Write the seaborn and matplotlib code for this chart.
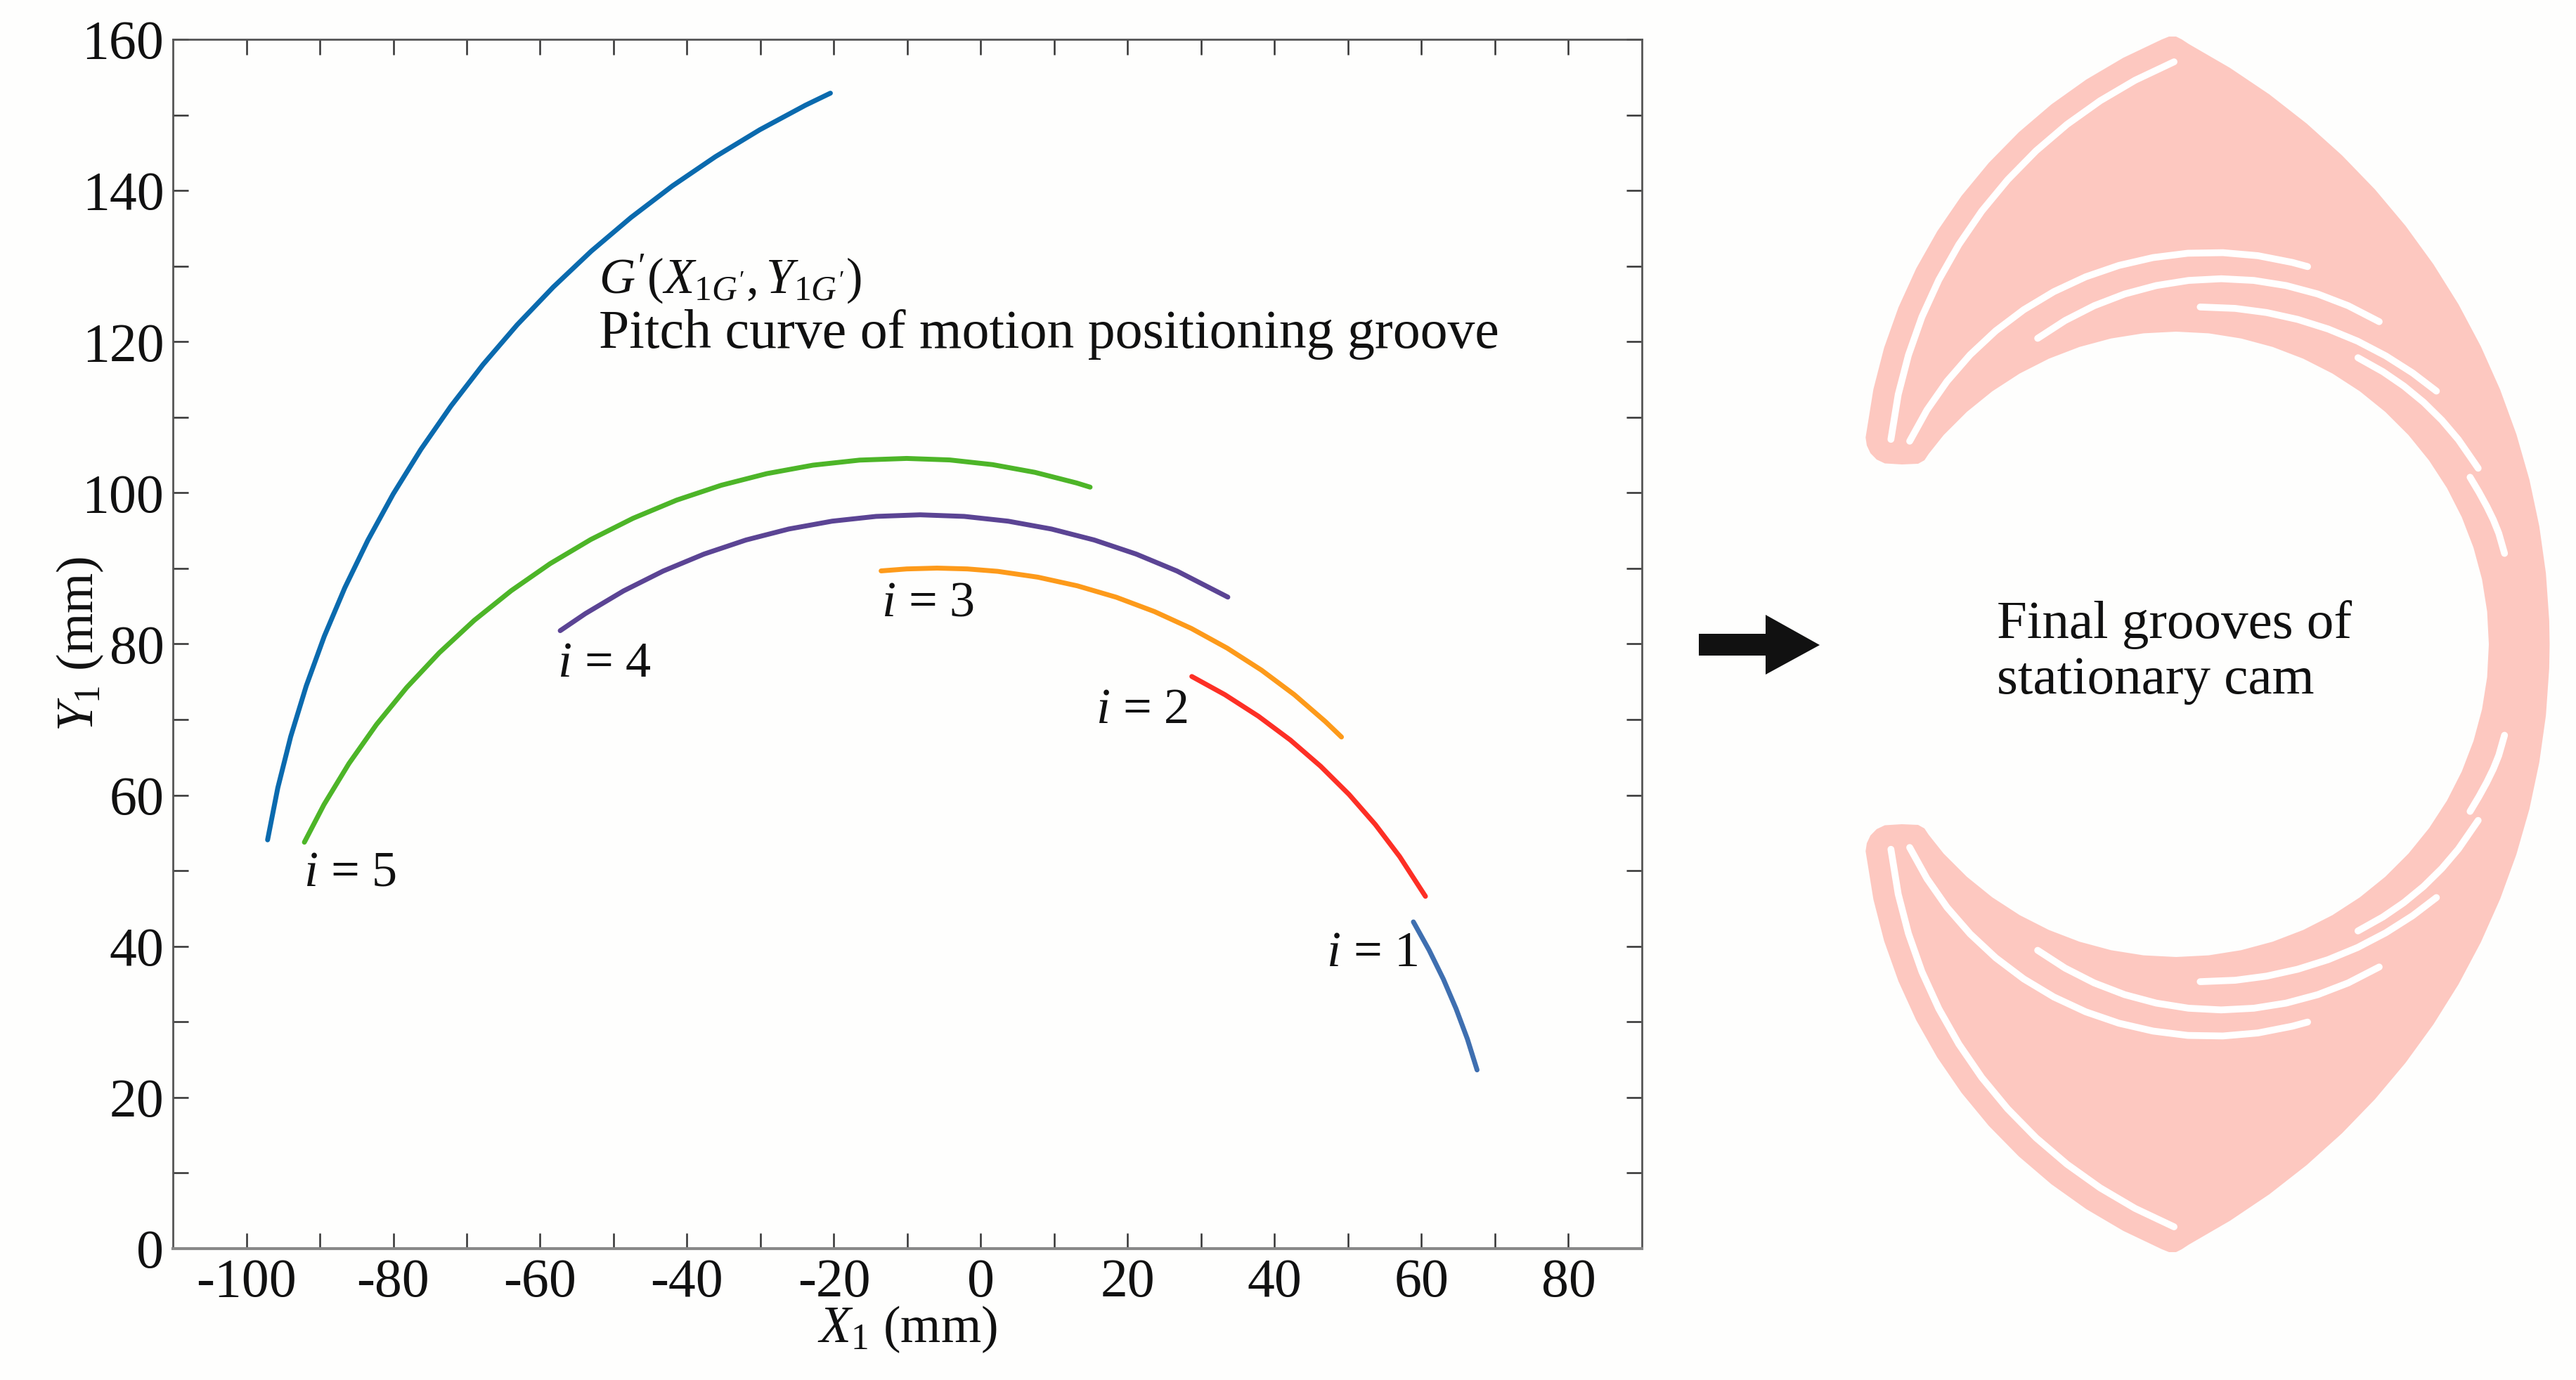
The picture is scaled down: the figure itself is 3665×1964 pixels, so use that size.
#!/usr/bin/env python

import matplotlib
matplotlib.use('Agg')
import matplotlib.pyplot as plt
import numpy as np
import pandas as pd
import seaborn as sns

# pitch curves (mm)
g_x = [-97.11, -95.72, -93.96, -91.85, -89.39, -86.59, -83.45, -80.01, -76.23, -72.15,
       -67.78, -63.14, -58.22, -53.05, -47.63, -41.99, -36.13, -30.09, -23.87, -20.48]
g_y = [54.08, 60.96, 67.75, 74.44, 81.02, 87.45, 93.74, 99.84, 105.76, 111.47,
       116.97, 122.22, 127.22, 131.97, 136.43, 140.61, 144.48, 148.04, 151.29, 152.88]
i5_x = [-92.1, -89.43, -86.04, -82.28, -78.17, -73.73, -68.98, -63.94, -58.64, -53.11, -47.35,
        -41.43, -35.35, -29.14, -22.85, -16.49, -10.1, -4.24, 1.59, 7.36, 13.05, 14.88]
i5_y = [53.77, 58.75, 64.17, 69.35, 74.24, 78.84, 83.12, 87.05, 90.63, 93.82, 96.63,
        99.03, 101.0, 102.54, 103.66, 104.33, 104.55, 104.35, 103.73, 102.71, 101.3, 100.75]
i4_x = [-57.27, -53.84, -48.65, -43.25, -37.68, -31.97, -26.15, -20.24, -14.27, -8.27,
        -2.27, 3.7, 9.61, 15.43, 21.14, 26.71, 33.63]
i4_y = [81.76, 84.02, 87.02, 89.65, 91.9, 93.76, 95.21, 96.25, 96.88, 97.09,
        96.88, 96.25, 95.21, 93.76, 91.9, 89.65, 86.2]
i3_x = [-13.58, -10.09, -5.96, -1.83, 2.3, 7.76, 13.15, 18.45, 23.63, 28.67, 33.54, 38.22, 42.68, 46.9, 49.1]
i3_y = [89.67, 89.93, 90.04, 89.93, 89.61, 88.84, 87.69, 86.18, 84.29, 82.05, 79.45, 76.53, 73.29, 69.74, 67.69]
i2_x = [28.72, 33.23, 37.79, 42.14, 46.25, 50.12, 53.71, 57.02, 60.53]
i2_y = [75.7, 73.29, 70.44, 67.29, 63.83, 60.1, 56.11, 51.87, 46.61]
i1_x = [58.89, 61.03, 62.97, 64.7, 66.24, 67.56]
i1_y = [43.23, 39.49, 35.66, 31.74, 27.74, 23.64]

curves = [('G', g_x, g_y), ('i5', i5_x, i5_y), ('i4', i4_x, i4_y),
          ('i3', i3_x, i3_y), ('i2', i2_x, i2_y), ('i1', i1_x, i1_y)]
curve_colors = {'G': '#0a6aae', 'i5': '#4db528', 'i4': '#5b4494',
                'i3': '#fd9a1a', 'i2': '#fd2f25', 'i1': '#3f6fb0'}

x_ticks = [-100, -80, -60, -40, -20, 0, 20, 40, 60, 80]
x_tick_labels = ['-100', '-80', '-60', '-40', '-20', '0', '20', '40', '60', '80']
x_minor = [-90, -70, -50, -30, -10, 10, 30, 50, 70]
y_ticks = [0, 20, 40, 60, 80, 100, 120, 140, 160]
y_tick_labels = ['0', '20', '40', '60', '80', '100', '120', '140', '160']
y_minor = [10, 30, 50, 70, 90, 110, 130, 150]

# upper half of the cam outline, the lower half is its mirror
cam_u = [531.5, 530.9, 526.2, 516.8, 502.8, 484.2, 461.1, 433.6, 401.9, 366.1, 326.4, 283.0,
         236.1, 185.9, 132.7, 76.7, 18.2, 8, 0, -10,
         -20.2, -75.2, -127.7, -177.4, -223.7, -266.4, -305.2, -339.7, -369.7, -395.0, -415.4, -430.6, -441.7,
         -440, -434.8, -426, -414.4, -390, -367, -358, -352,
         -330.7, -297.8, -261.6, -222.5, -181.0, -137.5, -92.5, -46.5, 0, 46.5, 92.5, 137.5, 181.0,
         222.5, 261.6, 297.8, 330.7, 360.0, 385.4, 406.5, 423.2, 435.3, 442.6, 445]
cam_v = [0, 33.8, 101.1, 168.0, 234.1, 299.0, 362.4, 424.1, 483.8, 541.0, 595.7, 647.4,
         695.9, 741.1, 782.7, 820.4, 854.3, 861, 865, 865,
         860.9, 834.7, 803.8, 768.4, 728.8, 685.3, 638.3, 588.0, 535.0, 479.5, 422.1, 363.1, 294.4,
         283, 272, 263, 257.5, 256, 257, 262, 271,
         297.8, 330.7, 360.0, 385.4, 406.5, 423.2, 435.3, 442.6, 445, 442.6, 435.3, 423.2, 406.5,
         385.4, 360.0, 330.7, 297.8, 261.6, 222.5, 181.0, 137.5, 92.5, 46.5, 0]

groove1_u = [-405.7, -395.3, -380.8, -361.6, -337.6, -309.1, -276.4, -239.6, -199.1, -155.2, -108.1, -58.3, -2.9]
groove1_v = [291.7, 355.6, 411.5, 466.0, 518.6, 568.9, 616.6, 661.1, 702.4, 739.9, 773.5, 802.8, 829.0]
groove2_u = [-379.0, -354.4, -325.8, -293.0, -256.6, -216.7, -173.9, -128.6, -81.4, -32.8, 16.7, 66.6, 116.4, 165.4, 187.1]
groove2_v = [289.1, 333.5, 374.4, 412.1, 446.1, 476.2, 501.9, 523.0, 539.2, 550.4, 556.6, 557.4, 553.1, 543.5, 537.6]
groove3_u = [-196.9, -157.9, -116.5, -73.1, -28.2, 17.8, 64.2, 110.6, 156.6, 201.5, 244.9, 289.0]
groove3_v = [435.5, 460.8, 481.9, 498.6, 510.6, 517.9, 520.3, 517.9, 510.6, 498.6, 481.9, 459.2]
groove4_u = [34.3, 84.1, 128.9, 173.1, 216.3, 258.2, 298.4, 336.6, 370.4]
groove4_v = [480.1, 478.1, 472.2, 462.4, 448.8, 431.5, 410.5, 386.2, 360.4]
groove5_u = [258.8, 294.3, 324.2, 352.3, 378.2, 401.7, 429.8]
groove5_v = [407.9, 388.0, 367.5, 344.4, 318.9, 291.3, 250.6]
groove6_u = [418.3, 431, 442.1, 451.5, 459.1, 467.3]
groove6_v = [237.8, 216.5, 196.3, 177, 158.1, 129.4]
grooves = [(groove1_u, groove1_v), (groove2_u, groove2_v), (groove3_u, groove3_v),
           (groove4_u, groove4_v), (groove5_u, groove5_v), (groove6_u, groove6_v)]

arrow_u = [-679, -584, -584, -507, -584, -584, -679]
arrow_v = [15, 15, 42, -1, -43, -16, -16]

W, H = 3666, 1964
bg = '#fefefd'
ink = '#111111'
sns.set_style('white')
plt.rcParams['font.family'] = ['Liberation Serif', 'DejaVu Serif']
plt.rcParams['mathtext.fontset'] = 'custom'
plt.rcParams['mathtext.rm'] = 'Liberation Serif'
plt.rcParams['mathtext.it'] = 'Liberation Serif:italic'
plt.rcParams['axes.unicode_minus'] = False

fig = plt.figure(figsize=(W / 100, H / 100), dpi=100, facecolor=bg)
ax = fig.add_axes([246 / W, 1 - 1777 / H, (2336 - 246) / W, (1777 - 56) / H], facecolor=bg)

df = pd.concat([pd.DataFrame({'x': x, 'y': y, 'curve': n}) for n, x, y in curves])
sns.lineplot(data=df, x='x', y='y', hue='curve', palette=curve_colors, sort=False,
             estimator=None, linewidth=5, legend=False, ax=ax)

ax.set_xlim(-110, 90)
ax.set_ylim(0, 160)
ax.set_xticks(x_ticks)
ax.set_xticklabels(x_tick_labels)
ax.set_yticks(y_ticks)
ax.set_yticklabels(y_tick_labels)
ax.set_xticks(x_minor, minor=True)
ax.set_yticks(y_minor, minor=True)
ax.tick_params(which='both', direction='in', top=True, right=True, bottom=True, left=True,
               length=16, width=1.8, color='#333333')
ax.tick_params(axis='x', which='major', labelsize=56, pad=10, labelcolor=ink)
ax.tick_params(axis='y', which='major', labelsize=56, pad=9, labelcolor=ink)
for s in ax.spines.values():
    s.set_linewidth(2)
    s.set_color('#555555')
ax.spines['bottom'].set_color('#888888')
ax.spines['bottom'].set_linewidth(3)

ax.set_xlabel(r'$X_{1}$ (mm)', fontsize=53, color=ink)
ax.xaxis.set_label_coords(0.5, -0.046)
ax.set_ylabel(r'$Y_{1}$ (mm)', fontsize=53, color=ink)
ax.yaxis.set_label_coords(-0.046, 0.5)

ax.text(-52, 126.5, r"$G'\mathrm{(}X_{1G'},Y_{1G'}\mathrm{)}$", fontsize=51, color=ink)
ax.text(-52, 119.2, 'Pitch curve of motion positioning groove', fontsize=56, color=ink)
ax.text(-92.2, 48, r'$i$ = 5', fontsize=52, color=ink)
ax.text(-57.7, 75.7, r'$i$ = 4', fontsize=52, color=ink)
ax.text(-13.5, 83.7, r'$i$ = 3', fontsize=52, color=ink)
ax.text(15.6, 69.5, r'$i$ = 2', fontsize=52, color=ink)
ax.text(47, 37.4, r'$i$ = 1', fontsize=52, color=ink)

# cam panel, axis units are picture pixels around the bore centre
ax2 = fig.add_axes([2400 / W, 0, (W - 2400) / W, 1], facecolor='none')
ax2.set_xlim(-696, 570)
ax2.set_ylim(-1047, 917)
ax2.axis('off')

outline_u = np.array(cam_u + cam_u[::-1])
outline_v = np.array(cam_v + [-v for v in cam_v[::-1]])
ax2.fill(outline_u, outline_v, color='#fdc8c0', lw=0)
for gu, gv in grooves:
    for sign in (1, -1):
        ax2.plot(gu, sign * np.array(gv), color='white', lw=7, solid_capstyle='round', solid_joinstyle='round')

ax2.fill(arrow_u, arrow_v, color='#111111', lw=0)

ax2.text(-255, 9, 'Final grooves of', fontsize=55.5, color=ink)
ax2.text(-255, -70, 'stationary cam', fontsize=55.5, color=ink)

fig.savefig('out.png', dpi=100, facecolor=bg)
